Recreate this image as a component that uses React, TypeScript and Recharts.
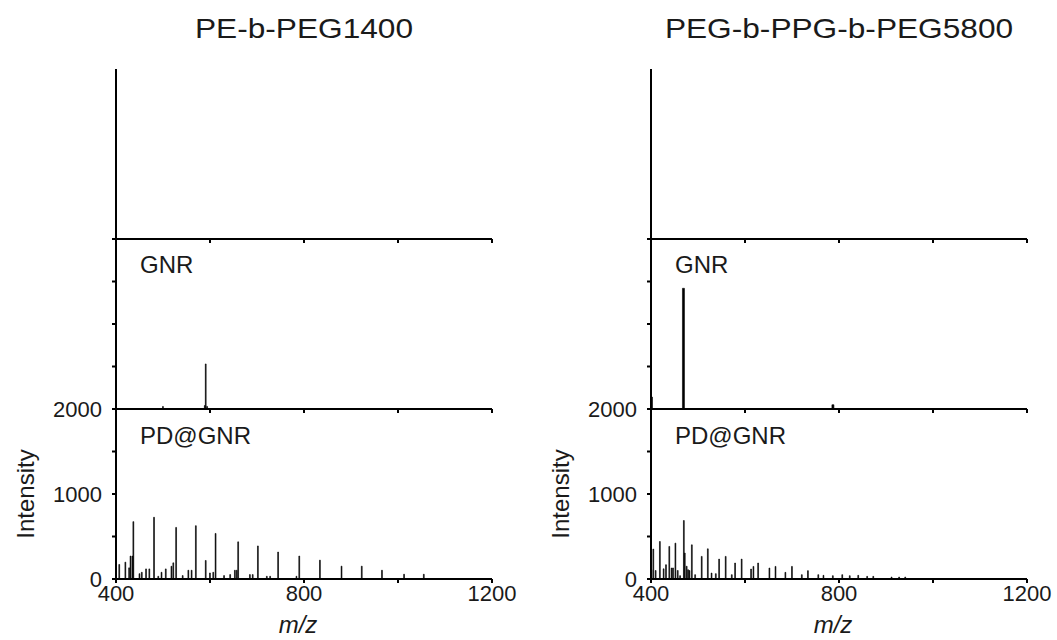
import { Bar, BarChart, XAxis, YAxis } from "recharts";

const mzTicks = [400, 600, 800, 1000, 1200];
const mzLabels = [400, 800, 1200];
const intensityTicks = [0, 500, 1000, 1500, 2000];
const intensityLabels = [0, 1000, 2000];

const titles = ["PE-b-PEG1400", "PEG-b-PPG-b-PEG5800"];
const sampleNames = ["GNR", "PD@GNR"];

// PE-b-PEG1400 / GNR
const peGnrMz = [500, 589, 591, 594];
const peGnrInt = [30, 40, 530, 30];

// PE-b-PEG1400 / PD@GNR
const pePdMz = [
  407, 420, 428, 431, 435, 437, 450, 455, 464, 471, 481, 490, 497, 506, 518,
  522, 528, 542, 554, 561, 570, 591, 600, 607, 612, 630, 643, 653, 657, 660,
  685, 691, 702, 721, 728, 745, 784, 790, 834, 880, 923, 966, 1013, 1055,
];
const pePdInt = [
  171, 198, 131, 270, 270, 675, 63, 79, 119, 119, 726, 32, 79, 119, 150,
  190, 607, 40, 103, 103, 627, 218, 71, 79, 536, 40, 52, 103, 103, 437,
  52, 52, 389, 32, 32, 317, 32, 270, 222, 151, 151, 103, 56, 56,
];

// PEG-b-PPG-b-PEG5800 / GNR
const pegGnrMz = [401, 469, 787];
const pegGnrInt = [140, 1420, 50];

// PEG-b-PPG-b-PEG5800 / PD@GNR
const pegPdMz = [
  401, 405, 410, 419, 427, 432, 439, 444, 447, 452, 457, 462, 470, 472, 476,
  479, 482, 487, 494, 508, 521, 529, 538, 545, 559, 572, 579, 593, 613, 618,
  628, 652, 665, 686, 700, 721, 734, 756, 767, 787, 807, 823, 841, 860, 873,
  912, 928, 941,
];
const pegPdInt = [
  109, 352, 100, 441, 120, 168, 383, 129, 130, 422, 100, 39, 688, 305, 150,
  109, 100, 402, 51, 266, 355, 70, 63, 234, 266, 51, 188, 234, 117, 148,
  188, 129, 148, 78, 148, 51, 98, 51, 43, 39, 51, 39, 43, 31, 31,
  23, 23, 23,
];

const toRows = (mz: number[], intensity: number[]) =>
  mz.map((m, i) => ({ mz: m, intensity: intensity[i] }));

const ink = "#1a1a1a";

type Row = { mz: number; intensity: number };

// each panel: plot area 376 x 170, y axis 100 wide on the left
const Panel = ({ rows, left, top, bottom = false }: { rows: Row[]; left: number; top: number; bottom?: boolean }) => (
  <div style={{ position: "absolute", left, top: top - 16 }}>
    <BarChart
      width={506}
      height={bottom ? 246 : 196}
      data={rows}
      margin={{ top: 16, right: 30, bottom: 0, left: 0 }}
    >
      <XAxis
        dataKey="mz"
        type="number"
        domain={[400, 1200]}
        ticks={mzTicks}
        interval={0}
        allowDataOverflow
        height={bottom ? 60 : 10}
        stroke="#000"
        strokeWidth={2}
        tickSize={4}
        tickMargin={2}
        tick={{ fill: ink, fontSize: 22 }}
        tickFormatter={(v) => (bottom && mzLabels.includes(v) ? String(v) : "")}
        label={
          bottom
            ? {
                value: "m/z",
                position: "insideBottom",
                offset: 6,
                dx: -6,
                fontStyle: "italic",
                fontSize: 24,
                fill: ink,
              }
            : undefined
        }
      />
      <YAxis
        type="number"
        domain={[0, 2000]}
        ticks={intensityTicks}
        interval={0}
        width={100}
        stroke="#000"
        strokeWidth={2}
        tickSize={4}
        tickMargin={10}
        tick={{ fill: ink, fontSize: 22 }}
        tickFormatter={(v) =>
          bottom && intensityLabels.includes(v) ? String(v) : ""
        }
      />
      <Bar
        dataKey="intensity"
        fill="#000"
        stroke="#000"
        strokeWidth={0.6}
        barSize={2}
        isAnimationActive={false}
      />
    </BarChart>
  </div>
);

const Side = ({ x, title, gnr, pd }: { x: number; title: string; gnr: Row[]; pd: Row[] }) => (
  <>
    <div
      style={{
        position: "absolute",
        left: x + 100,
        top: 13,
        width: 376,
        textAlign: "center",
        fontSize: 28,
        color: ink,
        whiteSpace: "nowrap",
        transform: "scaleX(1.13)",
      }}
    >
      {title}
    </div>
    <Panel rows={[]} left={x} top={69} />
    <Panel rows={gnr} left={x} top={239} />
    <Panel rows={pd} left={x} top={409} bottom />
    <div style={{ position: "absolute", left: x + 124, top: 251, fontSize: 24, color: ink }}>
      {sampleNames[0]}
    </div>
    <div style={{ position: "absolute", left: x + 124, top: 422, fontSize: 24, color: ink }}>
      {sampleNames[1]}
    </div>
    <div
      style={{
        position: "absolute",
        left: x + 10 - 60,
        top: 494 - 14,
        width: 120,
        textAlign: "center",
        fontSize: 24,
        color: ink,
        transform: "rotate(-90deg)",
      }}
    >
      Intensity
    </div>
  </>
);

export default function App() {
  return (
    <div
      style={{
        position: "absolute",
        left: 0,
        top: 0,
        width: 1057,
        height: 640,
        background: "#fff",
        fontFamily: "'Liberation Sans', Arial, sans-serif",
        overflow: "hidden",
      }}
    >
      <Side x={16} title={titles[0]} gnr={toRows(peGnrMz, peGnrInt)} pd={toRows(pePdMz, pePdInt)} />
      <Side x={551} title={titles[1]} gnr={toRows(pegGnrMz, pegGnrInt)} pd={toRows(pegPdMz, pegPdInt)} />
    </div>
  );
}
